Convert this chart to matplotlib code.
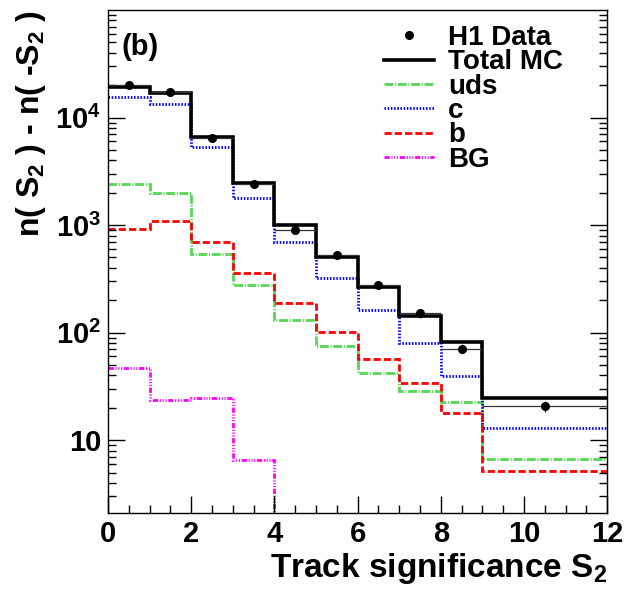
import numpy as np
import matplotlib
matplotlib.use('Agg')
import matplotlib.pyplot as plt
from matplotlib.lines import Line2D
from matplotlib.ticker import FixedLocator, FuncFormatter, LogLocator, NullFormatter, MultipleLocator

plt.rcParams['font.family'] = ['Liberation Sans', 'DejaVu Sans']
plt.rcParams['font.weight'] = 'bold'
plt.rcParams['mathtext.fontset'] = 'custom'
plt.rcParams['mathtext.rm'] = 'Liberation Sans:bold'
plt.rcParams['mathtext.bf'] = 'Liberation Sans:bold'
plt.rcParams['mathtext.it'] = 'Liberation Sans:bold'
plt.rcParams['mathtext.default'] = 'bf'

# bin edges in S2 (last bin is wide: 9-12)
edges = np.array([0, 1, 2, 3, 4, 5, 6, 7, 8, 9, 12])
centres = np.array([0.5, 1.5, 2.5, 3.5, 4.5, 5.5, 6.5, 7.5, 8.5, 10.5])

data = np.array([20000, 17300, 6400, 2400, 910, 525, 280, 151, 71, 20.7])
data_err = np.array([200, 180, 110, 70, 45, 30, 20, 13, 7, 2.3])
total_mc = np.array([19400, 16800, 6560, 2450, 1010, 500, 268, 142, 81, 24.7])
uds = np.array([2430, 1990, 540, 278, 131, 74.6, 41.8, 28.8, 22.5, 6.7])
charm = np.array([15700, 13500, 5370, 1800, 692, 320, 163, 80, 39.5, 13.0])
beauty = np.array([927, 1084, 692, 357, 188, 101, 56.9, 34.1, 18.0, 5.17])
bg = np.array([47, 23.7, 24.5, 6.6, 0, 0, 0, 0, 0, 0])

labels = ['H1 Data', 'Total MC', 'uds', 'c', 'b', 'BG']

green = '#55d655'
lw_c = 2.0
ls_uds = (0, (3.2, 0.6, 0.4, 0.6))
ls_c = (0, (0.55, 0.6))
ls_b = (0, (2.6, 1.1))
ls_bg = (0, (1.9, 0.6, 0.4, 0.6, 0.4, 0.6, 0.4, 0.6))

fig = plt.figure(figsize=(6.24, 5.92), dpi=100)
ax = fig.add_axes([0.173, 0.1334, 0.80, 0.8496])

ax.stairs(uds, edges, color=green, lw=lw_c, linestyle=ls_uds, baseline=None)
ax.stairs(charm, edges, color='#0000ff', lw=lw_c, linestyle=ls_c, baseline=None)
ax.stairs(beauty, edges, color='#ff0000', lw=lw_c, linestyle=ls_b, baseline=None)
# BG drops to zero after S2 = 4, so only the first 5 bins are drawn
bg_draw = np.where(bg > 0, bg, 1e-2)[:5]
ax.stairs(bg_draw, edges[:6], color='#ff00ff', lw=lw_c, linestyle=ls_bg, baseline=None)
ax.stairs(total_mc, edges, color='black', lw=2.6, baseline=None)

xerr = np.diff(edges) / 2
ax.errorbar(centres, data, yerr=data_err, xerr=xerr, fmt='o', color='black', ms=5.5,
            ecolor='#333333', elinewidth=0.9, capsize=0)

ax.set_yscale('log')
ax.set_xlim(0, 12)
ax.set_ylim(2.1, 1e5)

ax.xaxis.set_major_locator(MultipleLocator(2))
ax.xaxis.set_minor_locator(MultipleLocator(0.5))
ax.yaxis.set_major_locator(FixedLocator([10, 100, 1000, 10000]))
ax.yaxis.set_minor_locator(LogLocator(base=10, subs=np.arange(2, 10)))
ax.yaxis.set_minor_formatter(NullFormatter())


def ylab(v, pos):
    e = int(round(np.log10(v)))
    if e == 1:
        return '10'
    return r'$\mathbf{10^{%d}}$' % e


ax.yaxis.set_major_formatter(FuncFormatter(ylab))
ax.tick_params(which='both', direction='in', right=True, top=False, labelsize=21, width=1)
ax.tick_params(which='major', length=12, pad=5)
ax.tick_params(which='minor', length=6)
for lab in ax.get_xticklabels() + ax.get_yticklabels():
    lab.set_fontweight('bold')
for s in ax.spines.values():
    s.set_linewidth(1)

ax.set_xlabel(r'Track significance S$_{\mathbf{2}}$', fontsize=24, fontweight='bold',
              loc='right', labelpad=2)
ax.set_ylabel(r'n( S$_{\mathbf{2}}$ ) - n( -S$_{\mathbf{2}}$ )', fontsize=23, fontweight='bold',
              loc='top', labelpad=5)

ax.text(0.028, 0.955, '(b)', transform=ax.transAxes, fontsize=21, fontweight='bold', va='top')

leg_handles = [Line2D([], [], color='black', marker='o', ls='none', ms=5.5),
               Line2D([], [], color='black', lw=2.6),
               Line2D([], [], color=green, lw=lw_c, linestyle=ls_uds),
               Line2D([], [], color='#0000ff', lw=lw_c, linestyle=ls_c),
               Line2D([], [], color='#ff0000', lw=lw_c, linestyle=ls_b),
               Line2D([], [], color='#ff00ff', lw=lw_c, linestyle=ls_bg)]
ax.legend(leg_handles, labels, loc='upper left', bbox_to_anchor=(0.553, 0.97), frameon=False,
          fontsize=20, handlelength=1.8, handletextpad=0.5, labelspacing=-0.06,
          borderaxespad=0, borderpad=0)

fig.savefig('out.png', dpi=100)
